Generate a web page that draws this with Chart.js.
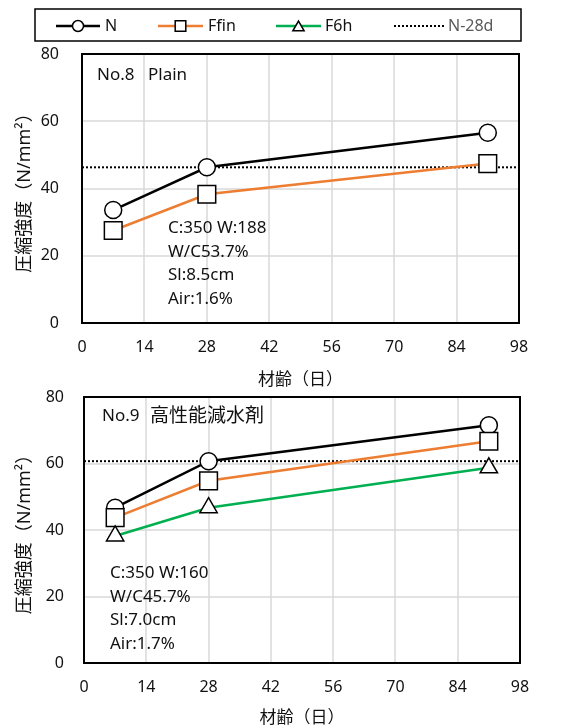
<!DOCTYPE html>
<html>
<head>
<meta charset="utf-8">
<script src="https://cdn.jsdelivr.net/npm/chart.js@4.4.1/dist/chart.umd.min.js"></script>
<style>
  body { margin: 0; background: #fff; }
  #wrap { position: relative; width: 575px; height: 728px; }
  canvas { position: absolute; left: 0; }
</style>
</head>
<body>
<div id="wrap">
  <canvas id="c8" width="575" height="390" style="top:0px"></canvas>
  <canvas id="c9" width="575" height="344" style="top:384px"></canvas>
</div>
<script>
// 材齢 (days)
const ages = [7, 28, 91];
// No.8 Plain
const no8N = [33.6, 46.3, 56.6];
const no8Ffin = [27.5, 38.3, 47.4];
// No.9 高性能減水剤
const no9N = [46.7, 60.7, 71.5];
const no9Ffin = [43.7, 54.8, 66.7];
const no9F6h = [38.2, 46.7, 58.7];
// N-28d reference line spans the whole x range
const refSpan = [0, 98];
const xStep = 14;
const yStep = 20;

const FONT = '"Noto Sans", "Noto Sans CJK JP", sans-serif';
const ORANGE = '#ED7D31';
const GREEN = '#00B050';

function pts(xs, ys) {
  return xs.map((x, i) => ({ x: x, y: ys[i] }));
}

function series(label, data, color, style, radius, order) {
  return {
    label: label,
    data: data,
    borderColor: color,
    borderWidth: 2.5,
    pointStyle: style,
    pointRadius: radius,
    pointBorderColor: '#000',
    pointBackgroundColor: '#fff',
    pointBorderWidth: 1.5,
    order: order
  };
}

function refLine(value) {
  return {
    label: 'N-28d',
    data: refSpan.map(x => ({ x: x, y: value })),
    borderColor: '#000',
    borderWidth: 2,
    borderDash: [2, 2],
    pointRadius: 0,
    order: 9
  };
}

// grid from the scale ticks, frame round the plot, text notes inside it
const notesPlugin = {
  id: 'notes',
  beforeDatasetsDraw(chart) {
    const ctx = chart.ctx;
    const a = chart.chartArea;
    const sx = chart.scales.x, sy = chart.scales.y;
    ctx.save();
    ctx.strokeStyle = '#d9d9d9';
    ctx.lineWidth = 1.5;
    sx.ticks.forEach(t => {
      const px = Math.round(sx.getPixelForValue(t.value));
      ctx.beginPath();
      ctx.moveTo(px, a.top);
      ctx.lineTo(px, a.bottom);
      ctx.stroke();
    });
    sy.ticks.forEach(t => {
      const py = Math.round(sy.getPixelForValue(t.value));
      ctx.beginPath();
      ctx.moveTo(a.left, py);
      ctx.lineTo(a.right, py);
      ctx.stroke();
    });
    ctx.restore();
  },
  afterDraw(chart, args, opts) {
    const ctx = chart.ctx;
    const a = chart.chartArea;
    ctx.save();
    ctx.strokeStyle = '#000';
    ctx.lineWidth = 2;
    ctx.strokeRect(a.left, a.top, a.right - a.left, a.bottom - a.top);

    ctx.fillStyle = '#111';
    ctx.textBaseline = 'middle';
    ctx.textAlign = 'left';
    ctx.font = '17px ' + FONT;
    ctx.fillText(opts.no, a.left + opts.tx, a.top + opts.ty);
    ctx.font = opts.nameSize + 'px ' + FONT;
    ctx.fillText(opts.name, a.left + opts.nx, a.top + opts.ty);

    ctx.font = '17px ' + FONT;
    opts.lines.forEach((t, i) => {
      ctx.fillText(t, a.left + opts.bx, a.top + opts.by + i * 23.7);
    });
    ctx.restore();
  }
};

// boxed legend above the first chart
const legendPlugin = {
  id: 'boxLegend',
  afterDraw(chart, args, opts) {
    if (!opts.show) return;
    const ctx = chart.ctx;
    ctx.save();
    ctx.strokeStyle = '#000';
    ctx.lineWidth = 1.5;
    ctx.strokeRect(35, 9, 486, 32);
    const y = 26;
    const items = [
      { label: 'N', color: '#000', style: 'circle', r: 5.5, x0: 56, x1: 100, tx: 105, tc: '#111' },
      { label: 'Ffin', color: ORANGE, style: 'rect', r: 7.5, x0: 158, x1: 203, tx: 208, tc: '#111' },
      { label: 'F6h', color: GREEN, style: 'triangle', r: 6.5, x0: 276, x1: 321, tx: 325, tc: '#111' },
      { label: 'N-28d', color: '#000', style: null, r: 0, x0: 394, x1: 445, tx: 448, tc: '#595959' }
    ];
    items.forEach(it => {
      ctx.beginPath();
      ctx.strokeStyle = it.color;
      ctx.lineWidth = it.style ? 2.5 : 2;
      ctx.setLineDash(it.style ? [] : [2, 2]);
      ctx.moveTo(it.x0, y);
      ctx.lineTo(it.x1, y);
      ctx.stroke();
      ctx.setLineDash([]);
      if (it.style) {
        ctx.fillStyle = '#fff';
        ctx.strokeStyle = '#000';
        ctx.lineWidth = 1.5;
        Chart.helpers.drawPoint(ctx, { pointStyle: it.style, radius: it.r, borderWidth: 1.5, rotation: 0 },
          (it.x0 + it.x1) / 2, it.style === 'triangle' ? y + 1.5 : y);
      }
      ctx.fillStyle = it.tc;
      ctx.font = '16px ' + FONT;
      ctx.textAlign = 'left';
      ctx.textBaseline = 'middle';
      ctx.fillText(it.label, it.tx, y);
    });
    ctx.restore();
  }
};

function makeChart(id, datasets, cfg) {
  return new Chart(document.getElementById(id), {
    type: 'line',
    data: { datasets: datasets },
    options: {
      responsive: false,
      animation: false,
      events: [],
      layout: { autoPadding: false, padding: { top: cfg.padTop, right: cfg.padRight, left: 0, bottom: 0 } },
      plugins: {
        legend: { display: false },
        tooltip: { enabled: false },
        notes: cfg.notes,
        boxLegend: { show: cfg.legend }
      },
      scales: {
        x: {
          type: 'linear',
          min: 0,
          max: 98,
          afterFit: s => {
            s.height = cfg.xHeight;
            s.paddingLeft = 0; s.paddingRight = 0;
          },
          ticks: { stepSize: xStep, color: '#111', font: { family: FONT, size: 16 }, padding: 15 },
          grid: { display: false, drawTicks: false },
          border: { display: false },
          title: {
            display: true,
            text: '材齢（日）',
            color: '#111',
            font: { family: FONT, size: 17 },
            padding: { top: 0, bottom: 0 }
          }
        },
        y: {
          min: 0,
          max: 80,
          afterFit: s => {
            s.width = cfg.yWidth;
            s.paddingTop = 0; s.paddingBottom = 0;
          },
          ticks: { stepSize: yStep, color: '#111', font: { family: FONT, size: 16 }, padding: cfg.yPad },
          grid: { display: false, drawTicks: false },
          border: { display: false },
          title: {
            display: true,
            text: '圧縮強度（N/mm²）',
            color: '#111',
            font: { family: FONT, size: 18 },
            padding: { top: 14, bottom: 0 }
          }
        }
      }
    },
    plugins: [notesPlugin, legendPlugin]
  });
}

makeChart('c8', [
  series('N', pts(ages, no8N), '#000', 'circle', 8.5, 3),
  series('Ffin', pts(ages, no8Ffin), ORANGE, 'rect', 12.5, 2),
  refLine(no8N[1])
], {
  padTop: 54, padRight: 56, xHeight: 67, yWidth: 82, yPad: 23, legend: true,
  notes: {
    no: 'No.8', name: 'Plain', nameSize: 17, tx: 15, nx: 66, ty: 21,
    bx: 86, by: 174,
    lines: ['C:350 W:188', 'W/C53.7%', 'Sl:8.5cm', 'Air:1.6%']
  }
});

makeChart('c9', [
  series('N', pts(ages, no9N), '#000', 'circle', 8.5, 3),
  series('Ffin', pts(ages, no9Ffin), ORANGE, 'rect', 12.5, 2),
  series('F6h', pts(ages, no9F6h), GREEN, 'triangle', 10, 1),
  refLine(no9N[1])
], {
  padTop: 13, padRight: 55, xHeight: 65, yWidth: 84, yPad: 20, legend: false,
  notes: {
    no: 'No.9', name: '高性能減水剤', nameSize: 19, tx: 18, nx: 66, ty: 19.5,
    bx: 26, by: 176,
    lines: ['C:350 W:160', 'W/C45.7%', 'Sl:7.0cm', 'Air:1.7%']
  }
});
</script>
</body>
</html>
